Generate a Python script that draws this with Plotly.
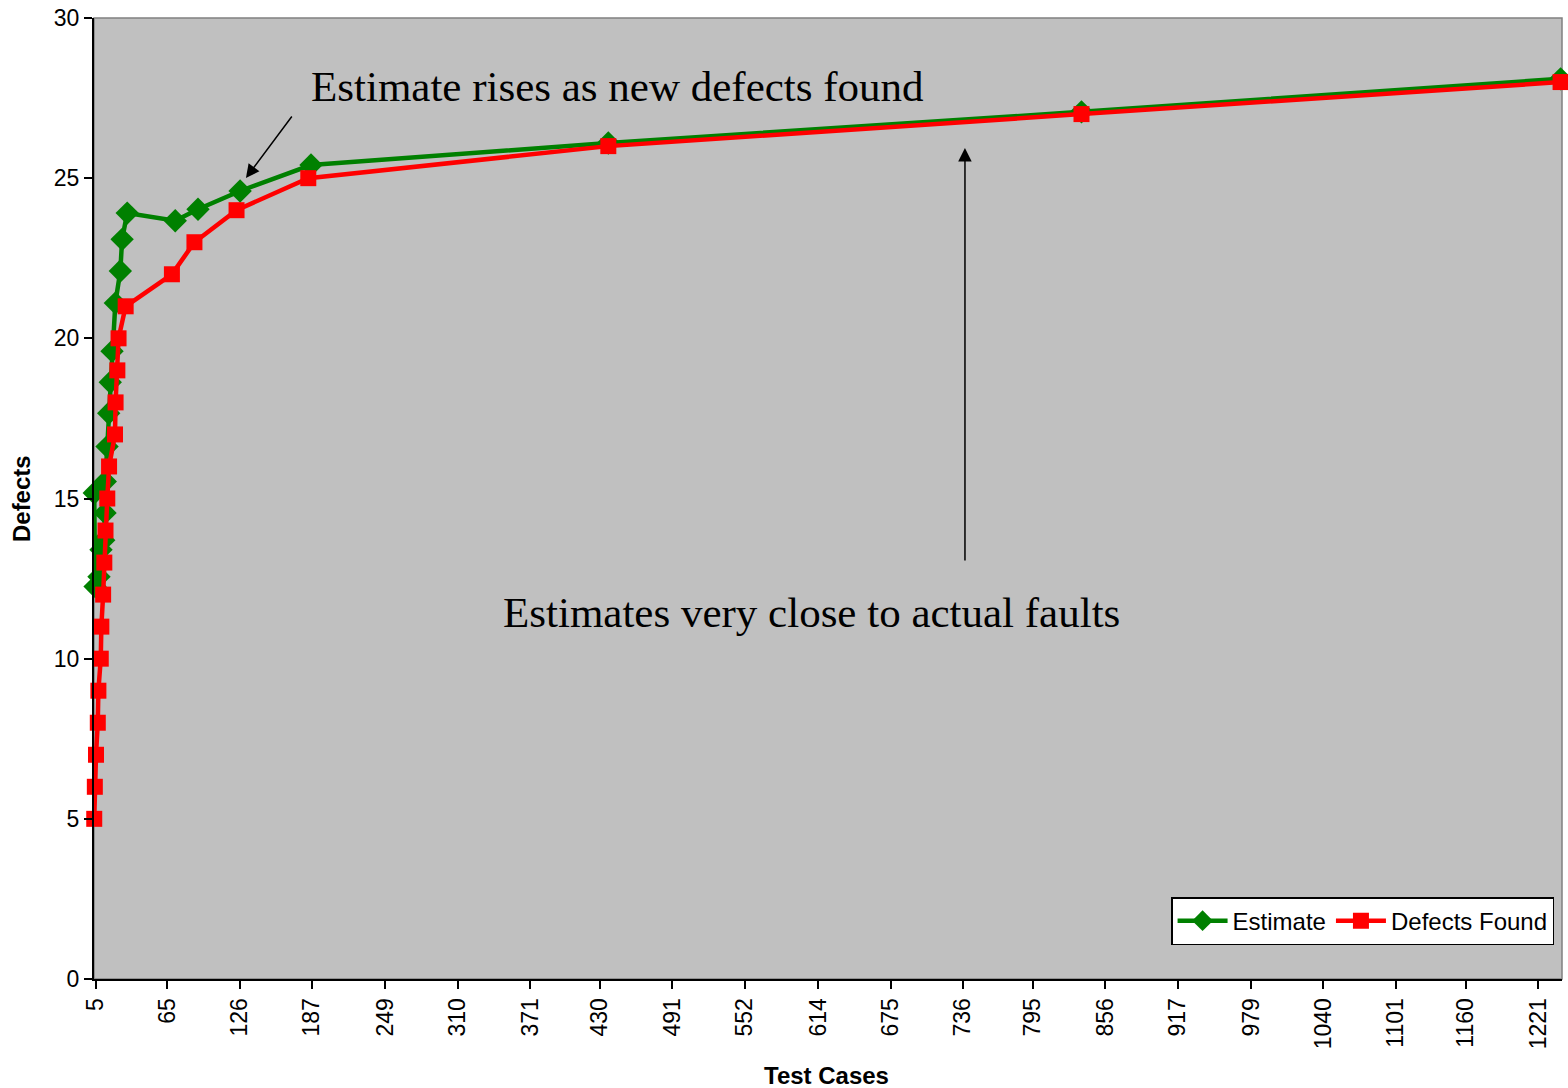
import plotly.graph_objects as go

# ---- data ----
found_x = [3.5, 4, 5, 6.5, 7, 9, 9.5, 11, 12, 13, 14.5, 16, 21, 21.5, 23, 24, 30,
           69, 88, 123.5, 184, 437, 836, 1240]
found_y = [5, 6, 7, 8, 9, 10, 11, 12, 13, 14, 15, 16, 17, 18, 19, 20, 21,
           22, 23, 24, 25, 26, 27, 28]

est_x = [3.5, 4.2, 7.5, 9.2, 11.5, 12.6, 12.8, 14.3, 15.7, 17, 18.5, 21.3, 25.5, 27, 31.3,
         71.8, 91, 126.5, 186.3, 437, 836, 1240]
est_y = [15.17, 12.25, 12.56, 13.4, 13.7, 14.55, 15.53, 16.62, 17.66, 18.63, 19.6, 21.1,
         22.1, 23.09, 23.91, 23.67, 24.03, 24.6, 25.41, 26.1, 27.07, 28.1]

x_tick_vals = [5, 65, 126, 187, 249, 310, 371, 430, 491, 552, 614, 675, 736, 795,
               856, 917, 979, 1040, 1101, 1160, 1221]
x_tick_text = [str(v) for v in x_tick_vals]
y_tick_vals = [0, 5, 10, 15, 20, 25, 30]

fig = go.Figure()
fig.add_trace(go.Scatter(
    x=est_x, y=est_y, name="Estimate", mode="lines+markers",
    line=dict(color="#008000", width=4.5),
    marker=dict(symbol="diamond", size=18, color="#008000"),
    cliponaxis=False,
))
fig.add_trace(go.Scatter(
    x=found_x, y=found_y, name="Defects Found", mode="lines+markers",
    line=dict(color="#FF0000", width=4.5),
    marker=dict(symbol="square", size=16, color="#FF0000"),
    cliponaxis=False,
))

serif = "Liberation Serif, Times New Roman, serif"
sans = "Liberation Sans, Arial, sans-serif"

annotations = [
    dict(text="Estimate rises as new defects found", xref="paper", yref="paper",
         x=0.3563, y=0.9292, xanchor="center", yanchor="middle", showarrow=False,
         font=dict(family=serif, size=43, color="black")),
    dict(text="Estimates very close to actual faults", xref="paper", yref="paper",
         x=0.4888, y=0.3809, xanchor="center", yanchor="middle", showarrow=False,
         font=dict(family=serif, size=43, color="black")),
    dict(text="", xref="paper", yref="paper", x=0.1035, y=0.8335, ax=47, ay=-63,
         showarrow=True, arrowhead=2, arrowsize=1.8, arrowwidth=1.5, arrowcolor="black"),
    dict(text="", xref="paper", yref="paper", x=0.5933, y=0.8647, ax=0, ay=414,
         showarrow=True, arrowhead=2, arrowsize=1.8, arrowwidth=1.5, arrowcolor="black"),
    dict(text="<b>Defects</b>", xref="paper", yref="paper", x=-0.049, y=0.4995,
         xanchor="center", yanchor="middle",
         textangle=-90, showarrow=False, font=dict(family=sans, size=24, color="black")),
    dict(text="<b>Test Cases</b>", xref="paper", yref="paper", x=0.4993, y=-0.0999,
         xanchor="center", yanchor="middle",
         showarrow=False, font=dict(family=sans, size=24, color="black")),
]

fig.update_layout(
    width=1568, height=1088,
    margin=dict(l=94, r=6, t=18, b=109),
    paper_bgcolor="white",
    plot_bgcolor="#C0C0C0",
    font=dict(family=sans, size=23, color="black"),
    showlegend=True,
    legend=dict(orientation="h", x=0.9946, y=0.0853, xanchor="right", yanchor="top",
                bgcolor="white", bordercolor="black", borderwidth=1.5,
                font=dict(family=sans, size=24, color="black"),
                itemwidth=50, tracegroupgap=0),
    annotations=annotations,
    shapes=[dict(type="rect", xref="paper", yref="paper", x0=0, y0=0, x1=1, y1=1,
                 line=dict(color="#808080", width=1.5), layer="below")],
)
fig.update_xaxes(
    range=[3.3, 1241.2], tickmode="array", tickvals=x_tick_vals, ticktext=x_tick_text,
    tickangle=-90, ticks="outside", ticklen=8, tickwidth=2, tickcolor="black",
    showline=True, linecolor="black", linewidth=2, showgrid=False, zeroline=False,
    tickfont=dict(family=sans, size=23, color="black"),
)
fig.update_yaxes(
    range=[0, 30], tickmode="array", tickvals=y_tick_vals,
    ticks="outside", ticklen=8, tickwidth=2, tickcolor="black",
    showline=True, linecolor="black", linewidth=2, showgrid=False, zeroline=False,
    tickfont=dict(family=sans, size=23, color="black"),
)

fig.write_html("out.html")
